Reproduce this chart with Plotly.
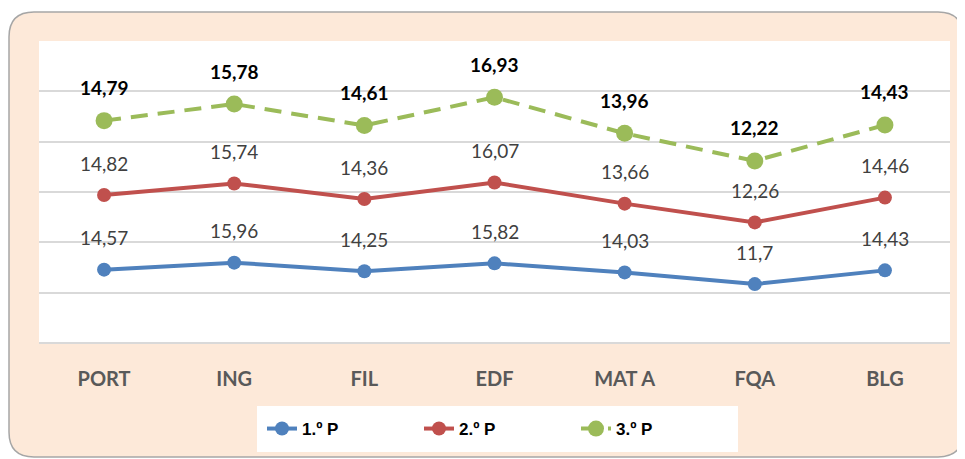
import numpy as np
import plotly.graph_objects as go

# subjects and grades per period
subjects = ['PORT', 'ING', 'FIL', 'EDF', 'MAT A', 'FQA', 'BLG']
p1 = [14.57, 15.96, 14.25, 15.82, 14.03, 11.7, 14.43]
p2 = [14.82, 15.74, 14.36, 16.07, 13.66, 12.26, 14.46]
p3 = [14.79, 15.78, 14.61, 16.93, 13.96, 12.22, 14.43]

# stacked line chart (as in the original spreadsheet)
y1 = np.array(p1)
y2 = y1 + np.array(p2)
y3 = y2 + np.array(p3)

# page body adds an 8px margin, so the figure is a bit smaller than the window
OFF = 8
W, H = 965 - OFF, 459 - OFF
ML, MR, MT, MB = 39 - OFF, 15, 41 - OFF, 116
pw, ph = W - ML - MR, H - MT - MB

def px_x(x):
    return (x - OFF - ML) / pw

def px_y(y):
    return (H - MB - (y - OFF)) / ph

def label(v):
    return str(v).replace('.', ',')

fig = go.Figure()

series = [
    ('1.º P', y1, p1, '#4f81bd', 'solid', 14),
    ('2.º P', y2, p2, '#c0504d', 'solid', 14),
    ('3.º P', y3, p3, '#9bbb59', '17px,10px', 17),
]
for name, ys, vals, color, dash, msize in series:
    fig.add_trace(go.Scatter(
        x=subjects, y=ys, name=f'<b>{name}</b>', mode='lines+markers',
        line=dict(color=color, width=4, dash=dash),
        marker=dict(color=color, size=msize),
        hoverinfo='skip'
    ))

annotations = []
for name, ys, vals, color, dash, msize in series:
    bold = name == '3.º P'
    for s, yv, v in zip(subjects, ys, vals):
        annotations.append(dict(
            x=s, y=yv, text=f'<b>{label(v)}</b>' if bold else label(v),
            showarrow=False, yanchor='middle', yshift=33 if bold else 32,
            font=dict(size=19, color='#000000' if bold else '#404040',
                      family='Lato')
        ))

# rounded peach frame and white plot area
x0, x1, yt, yb, r = px_x(9), px_x(963), px_y(12), px_y(457), 25
rx, ry = r / pw, r / ph
path = (f'M {x0 + rx} {yt} L {x1 - rx} {yt} Q {x1} {yt} {x1} {yt - ry} '
        f'L {x1} {yb + ry} Q {x1} {yb} {x1 - rx} {yb} '
        f'L {x0 + rx} {yb} Q {x0} {yb} {x0} {yb + ry} '
        f'L {x0} {yt - ry} Q {x0} {yt} {x0 + rx} {yt} Z')

fig.update_layout(
    width=W, height=H,
    margin=dict(l=ML, r=MR, t=MT, b=MB, autoexpand=False),
    paper_bgcolor='white', plot_bgcolor='rgba(0,0,0,0)',
    font=dict(family='Lato'),
    showlegend=True,
    shapes=[
        dict(type='path', path=path, xref='paper', yref='paper',
             fillcolor='#fde9d9', line=dict(color='#a6a6a6', width=1.5),
             layer='below'),
        dict(type='rect', xref='paper', yref='paper', x0=0, x1=1, y0=0, y1=1,
             fillcolor='white', line=dict(width=0), layer='below'),
    ],
    annotations=annotations,
    legend=dict(
        orientation='h', x=px_x(257), xanchor='left', y=px_y(406),
        yanchor='top', bgcolor='white', bordercolor='white', borderwidth=5,
        font=dict(size=17, color='#000000', family='Liberation Sans'),
        entrywidth=112,
    ),
)

fig.update_xaxes(
    range=[-0.5, 6.5], showgrid=False, showline=False, zeroline=False,
    ticks='', ticklabelstandoff=22,
    tickfont=dict(size=20, color='#595959', family='Lato'),
    tickprefix='<b>', ticksuffix='</b>'
)
fig.update_yaxes(
    range=[0, 60], dtick=10, showticklabels=False, showgrid=True,
    gridcolor='#d9d9d9', gridwidth=1.5, zeroline=True, zerolinecolor='#d9d9d9',
    zerolinewidth=1.5
)

fig.write_html('out.html')
